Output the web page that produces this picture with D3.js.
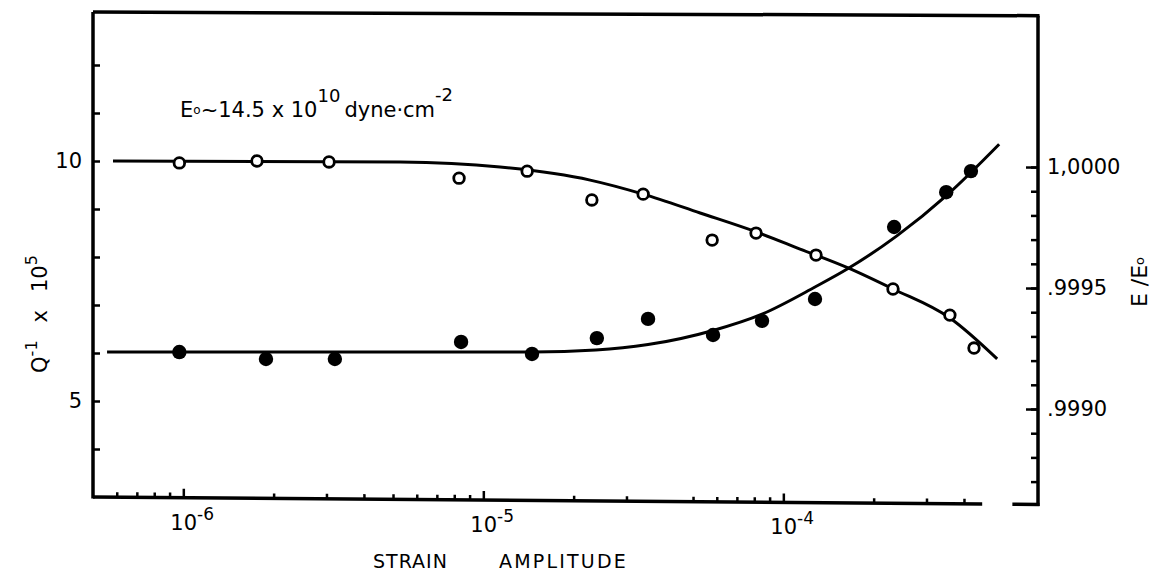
<!DOCTYPE html>
<html>
<head>
<meta charset="utf-8">
<script src="https://cdn.jsdelivr.net/npm/d3@7"></script>
<style>
  body { margin: 0; background: #fff; }
  text { font-family: "DejaVu Sans", sans-serif; fill: #000; }
</style>
</head>
<body>
<div id="chart"></div>
<script>
// open circles: E/E0 (right axis), filled circles: Q^-1 x 10^5 (left axis)
const openStrain  = [9.7e-7, 1.76e-6, 3.06e-6, 8.3e-6, 1.4e-5, 2.3e-5, 3.41e-5, 5.79e-5, 8.11e-5, 1.285e-4, 2.32e-4, 3.59e-4, 4.32e-4];
const openModulus = [1.000017, 1.000025, 1.000021, 0.999954, 0.999983, 0.999864, 0.999888, 0.999698, 0.999727, 0.999636, 0.999496, 0.999388, 0.999252];

const solidStrain = [9.7e-7, 1.886e-6, 3.2e-6, 8.43e-6, 1.453e-5, 2.39e-5, 3.54e-5, 5.83e-5, 8.49e-5, 1.275e-4, 2.34e-4, 3.49e-4, 4.22e-4];
const solidQ      = [6.02, 5.875, 5.875, 6.23, 5.98, 6.31, 6.71, 6.375, 6.67, 7.125, 8.625, 9.35, 9.79];

// hand drawn curves
const modFitStrain = [5.83e-7, 5.28e-6, 1.137e-5, 2.27e-5, 3.41e-5, 5.28e-5, 8.11e-5, 1.137e-4, 1.643e-4, 2.32e-4, 3.59e-4, 5.16e-4];
const modFitValue  = [1.000025, 1.000021, 1.0, 0.999946, 0.999888, 0.99981, 0.999732, 0.999661, 0.999583, 0.999496, 0.999376, 0.999207];
const qFitStrain   = [5.57e-7, 1.464e-5, 2.37e-5, 3.54e-5, 5.83e-5, 8.49e-5, 1.275e-4, 1.643e-4, 2.39e-4, 3.51e-4, 5.24e-4];
const qFitValue    = [6.02, 6.02, 6.06, 6.175, 6.47, 6.81, 7.375, 7.76, 8.44, 9.29, 10.35];

// ticks
const leftTicks  = [4, 5, 6, 7, 8, 9, 10, 11, 12];
const leftLabels = [10, 5];
const rightTicks = [0.9987, 0.9988, 0.9989, 0.9990, 0.9991, 0.9992, 0.9993, 0.9994, 0.9995, 0.9996, 0.9997, 0.9998, 0.9999, 1.0000];
const rightMajor = [0.9990, 0.9995, 1.0000];
const rightLabels = [".9990", ".9995", "1,0000"];
const xMinor = [6e-7, 7e-7, 8e-7, 9e-7,
                2e-6, 3e-6, 4e-6, 5e-6, 6e-6, 7e-6, 8e-6, 9e-6,
                2e-5, 3e-5, 5e-5, 6e-5, 7e-5, 8e-5, 9e-5,
                2e-4, 3e-4, 4e-4];
const xMajor = [1e-6, 1e-5, 1e-4];
const xExp   = ["-6", "-5", "-4"];

const width = 1155, height = 577;
const plotLeft = 93, plotRight = 1038, plotTop = 12, plotBottom = 497;
// the scanned frame sags a little to the right
const tilt = 0.45, slope = Math.tan(tilt * Math.PI / 180);
const sag = xp => (xp - plotLeft) * slope;
const topSag = xp => (xp - plotLeft) * slope * 0.5;

const svg = d3.select("#chart").append("svg")
  .attr("width", width)
  .attr("height", height);

const x = d3.scaleLog().domain([5e-7, 7.06e-4]).range([plotLeft, plotRight]);
const yL = d3.scaleLinear().domain([3, 13.1]).range([plotBottom, 12.2]);
const yR = d3.scaleLinear().domain([0.9986, 1.00062]).range([505.8, 17]);

// frame
const frame = svg.append("g").attr("stroke", "#000").attr("stroke-width", 3.5).attr("fill", "none");
frame.append("line").attr("x1", plotLeft).attr("x2", plotLeft).attr("y1", plotTop).attr("y2", plotBottom + 1.5);
frame.append("line").attr("x1", plotLeft).attr("x2", plotRight + 1.5)
  .attr("y1", plotTop).attr("y2", plotTop + topSag(plotRight));
frame.append("line").attr("x1", plotRight).attr("x2", plotRight)
  .attr("y1", plotTop + topSag(plotRight)).attr("y2", plotBottom + sag(plotRight) + 1.5);
frame.append("line").attr("x1", plotLeft).attr("x2", x(4.6e-4))
  .attr("y1", plotBottom).attr("y2", plotBottom + sag(x(4.6e-4)));
frame.append("line").attr("x1", x(5.8e-4)).attr("x2", plotRight + 1.5)
  .attr("y1", plotBottom + sag(x(5.8e-4))).attr("y2", plotBottom + sag(plotRight));

// ticks
function ticks(sel) {
  sel.select(".domain").remove();
  sel.selectAll(".tick line").attr("stroke", "#000").attr("stroke-width", 2.5);
}
svg.append("g").attr("transform", `translate(${plotLeft},0)`)
  .call(d3.axisLeft(yL).tickValues(leftTicks).tickSize(-7).tickFormat(""))
  .call(ticks);
svg.append("g").attr("transform", `translate(${plotRight},0)`)
  .call(d3.axisRight(yR).tickValues(rightTicks).tickSize(-7).tickFormat(""))
  .call(ticks);
svg.append("g").attr("transform", `translate(${plotRight},0)`)
  .call(d3.axisRight(yR).tickValues(rightMajor).tickSize(-12).tickFormat(""))
  .call(ticks);
const bottomShift = `translate(0,${plotBottom - plotLeft * slope}) skewY(${tilt})`;
svg.append("g").attr("transform", bottomShift)
  .call(d3.axisBottom(x).tickValues(xMinor).tickSize(-5).tickFormat(""))
  .call(ticks);
svg.append("g").attr("transform", bottomShift)
  .call(d3.axisBottom(x).tickValues(xMajor).tickSize(-9).tickFormat(""))
  .call(ticks);

// tick labels
svg.selectAll(".lbl-left").data(leftLabels).join("text")
  .attr("x", plotLeft - 11).attr("y", d => yL(d))
  .attr("text-anchor", "end").attr("dominant-baseline", "central")
  .attr("font-size", 21).text(d => d);

svg.selectAll(".lbl-right").data(rightMajor).join("text")
  .attr("x", plotRight + 9).attr("y", d => yR(d))
  .attr("dominant-baseline", "central")
  .attr("font-size", 21).text((d, i) => rightLabels[i]);

xMajor.forEach((v, i) => {
  const t = svg.append("text").attr("x", x(v) - 13).attr("y", plotBottom + sag(x(v)) + 32).attr("font-size", 21);
  t.append("tspan").text("10");
  t.append("tspan").attr("dy", -10).attr("font-size", 17).text(xExp[i]);
});

// axis titles
const xt = svg.append("text").attr("y", 568).attr("font-size", 19);
xt.append("tspan").attr("x", 373).attr("letter-spacing", 1).text("STRAIN");
xt.append("tspan").attr("x", 499).attr("letter-spacing", 2.2).text("AMPLITUDE");

const yt = svg.append("text").attr("transform", "translate(47,314) rotate(-90)")
  .attr("text-anchor", "middle").attr("font-size", 21);
yt.append("tspan").text("Q");
yt.append("tspan").attr("dy", -10).attr("font-size", 16).text("-1");
yt.append("tspan").attr("dy", 10).attr("dx", 18).text("x");
yt.append("tspan").attr("dx", 18).text("10");
yt.append("tspan").attr("dy", -10).attr("font-size", 16).text("5");

const rt = svg.append("text").attr("transform", "translate(1147,282) rotate(-90)")
  .attr("text-anchor", "middle").attr("font-size", 22);
rt.append("tspan").text("E /E");
rt.append("tspan").attr("font-size", 13).attr("dy", -3).text("o");

// annotation
const an = svg.append("text").attr("x", 180).attr("y", 117).attr("font-size", 21);
an.append("tspan").text("E");
an.append("tspan").attr("font-size", 12).attr("dy", -3).text("o");
an.append("tspan").attr("dy", 3).text("~14.5 x 10");
an.append("tspan").attr("dy", -15).attr("font-size", 18).text("10");
an.append("tspan").attr("dy", 15).attr("dx", 4).text("dyne\u00b7cm");
an.append("tspan").attr("dy", -16).attr("font-size", 18).text("-2");

// curves
const modLine = d3.line().x((d, i) => x(modFitStrain[i])).y(d => yR(d)).curve(d3.curveMonotoneX);
const qLine = d3.line().x((d, i) => x(qFitStrain[i])).y(d => yL(d)).curve(d3.curveMonotoneX);

svg.append("path").attr("d", modLine(modFitValue))
  .attr("fill", "none").attr("stroke", "#000").attr("stroke-width", 3);
svg.append("path").attr("d", qLine(qFitValue))
  .attr("fill", "none").attr("stroke", "#000").attr("stroke-width", 3);

// points
svg.selectAll(".open").data(openModulus).join("circle")
  .attr("cx", (d, i) => x(openStrain[i])).attr("cy", d => yR(d))
  .attr("r", 5.3).attr("fill", "#fff").attr("stroke", "#000").attr("stroke-width", 2.8);

svg.selectAll(".solid").data(solidQ).join("circle")
  .attr("cx", (d, i) => x(solidStrain[i])).attr("cy", d => yL(d))
  .attr("r", 7.2).attr("fill", "#000");
</script>
</body>
</html>
